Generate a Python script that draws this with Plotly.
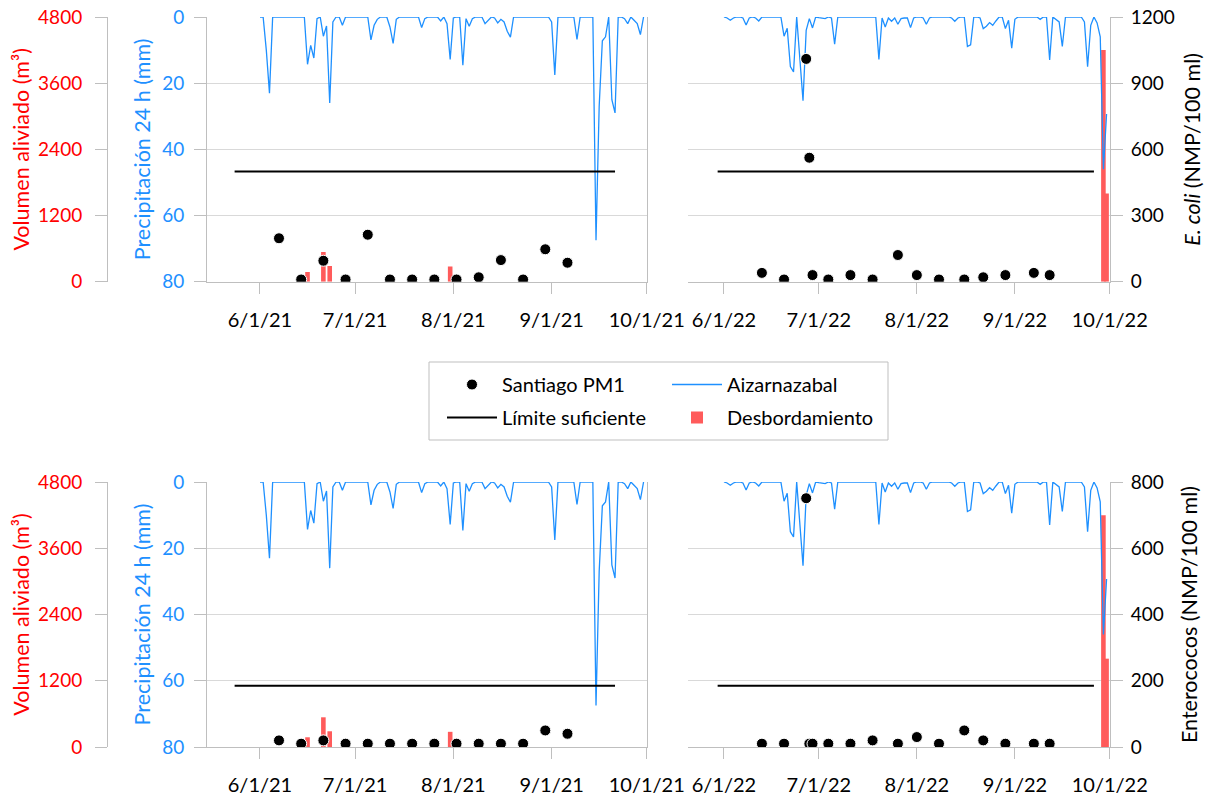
import plotly.graph_objects as go
import pandas as pd

# ---------------- data ----------------
precip_dates_2021 = pd.date_range("2021-06-01", "2021-09-30", freq="D")
precip_2021 = [
    0, 0, 10, 23, 0, 0, 0, 0, 0, 0,
    0, 0, 0, 0, 0, 14.3, 8.6, 12.4, 0.5, 0,
    5.8, 2.7, 26, 1.5, 0, 0, 2.5, 0, 0, 0,
    0, 0, 0, 0, 0, 6.9, 2.5, 0.7, 0, 0,
    0, 3, 8, 0.7, 0, 0, 0, 0, 0, 0,
    0, 3.2, 0.5, 0, 0, 0, 0, 1.2, 0, 2,
    12.8, 0.3, 0, 0, 14.6, 0.5, 2.8, 0.5, 0, 0,
    0, 2, 1, 0, 0.3, 1.8, 0.7, 1.5, 4.3, 6.1,
    0, 0, 0, 0, 0, 0, 0, 0, 0, 0,
    0, 0, 1.5, 17.5, 0, 0, 0, 0, 0, 0,
    6.8, 0, 0, 0, 0, 0, 67.5, 27, 7.2, 6,
    0, 25, 29, 0, 0, 0.5, 2, 0, 1, 2,
    5.3, 0,
]
precip_dates_2022 = pd.date_range("2022-06-01", "2022-09-30", freq="D")
precip_2022 = [
    0, 0.3, 1, 0.3, 0, 0, 0.3, 2.4, 0.3, 0,
    0.3, 1.2, 0, 0, 0, 0, 0, 0, 0, 5.8,
    3.4, 15, 16.6, 0, 13, 25.3, 4, 0.5, 3.3, 0,
    0.2, 0.3, 0.5, 0, 0.3, 8.2, 0, 0, 0, 0,
    0, 0, 0, 0, 0, 0, 0, 0, 0, 12.8,
    0.3, 3, 0.3, 1.3, 0.3, 2.2, 0.5, 0.3, 0.3, 3.2,
    0.3, 0, 0, 0.3, 2.2, 0.3, 0, 0, 0, 0,
    0, 0, 0.3, 1.3, 0.3, 0, 0, 8.9, 8.4, 0,
    0, 0.3, 3.5, 2.8, 1.7, 2.5, 1.2, 0, 0, 3.5,
    1, 9.4, 0.7, 0, 0, 0, 0, 0, 0, 0,
    0.7, 0, 0, 13, 0, 0.7, 1.5, 8.9, 0, 0,
    0, 0, 0, 0, 1.5, 15, 2.5, 0, 1.8, 6,
    46, 29.3,
]

overflow_dates_2021 = ["2021-06-16", "2021-06-21", "2021-06-23", "2021-07-31"]
overflow_2021 = [176, 538, 285, 275]
overflow_dates_2022 = ["2022-09-29", "2022-09-30"]
overflow_2022 = [4200, 1600]

sample_dates_2021 = ["2021-06-07", "2021-06-14", "2021-06-21", "2021-06-28", "2021-07-05",
                     "2021-07-12", "2021-07-19", "2021-07-26", "2021-08-02", "2021-08-09",
                     "2021-08-16", "2021-08-23", "2021-08-30", "2021-09-06"]
ecoli_2021 = [197, 10, 95, 10, 213, 10, 10, 10, 10, 20, 98, 10, 147, 86]
entero_2021 = [20, 10, 20, 10, 10, 10, 10, 10, 10, 10, 10, 10, 50, 40]

sample_dates_2022 = ["2022-06-13", "2022-06-20", "2022-06-27", "2022-06-28", "2022-06-29",
                     "2022-07-04", "2022-07-11", "2022-07-18", "2022-07-26", "2022-08-01",
                     "2022-08-08", "2022-08-16", "2022-08-22", "2022-08-29", "2022-09-07",
                     "2022-09-12"]
ecoli_2022 = [40, 10, 1010, 562, 30, 10, 30, 10, 121, 30, 10, 10, 20, 30, 40, 30]
entero_2022 = [10, 10, 751, 10, 10, 10, 10, 20, 10, 30, 10, 50, 20, 10, 10, 10]

limit_dates_2021 = ["2021-05-24", "2021-09-21"]
limit_dates_2022 = ["2022-05-30", "2022-09-26"]
limit_ecoli = 500
limit_entero = 185

# ---------------- style ----------------
# The page body has an 8 px margin, so the figure is drawn 8 px smaller
# and every reference pixel position is shifted by that offset.
OFF = 8
W, H = 1206, 788
ML, MR, MT, MB = 92, 104, 9, 49
PW, PH = W - ML - MR, H - MT - MB
FONT = "Lato"
FS = 20        # legend / x tick labels
FS_Y = 19      # y tick labels
FS_T = 21.5    # axis titles
RED_TXT = "#FF0000"
BAR_RED = "#FF5B5B"
BLUE = "#1E90FF"
AX_GRAY = "#BFBFBF"
GRID = "#D9D9D9"


def fx(px):
    return (px - OFF - ML) / PW


def fy(py):
    return (H - MB - (py - OFF)) / PH


XL = [fx(207), fx(647)]
XR = [fx(688), fx(1110)]
YT = [fy(281.7), 1.0]
YB = [0.0, fy(482)]
RANGE21 = ["2021-05-15 07:00", "2021-10-01 02:00"]
RANGE22 = ["2022-05-20 15:00", "2022-10-01 02:00"]
BARW = 1.45 * 86400000

fig = go.Figure()


def add_panel(xa, y_vol, y_pre, y_bac, bar_x, bar_y, p_x, p_y, s_x, s_y, l_x, l_y, show):
    fig.add_trace(go.Bar(x=bar_x, y=bar_y, xaxis=xa, yaxis=y_vol, marker=dict(color=BAR_RED, line=dict(width=0)),
                         width=BARW, name="Desbordamiento", legend="legend2", legendgroup="des",
                         legendrank=2, showlegend=show))
    fig.add_trace(go.Scatter(x=p_x, y=p_y, xaxis=xa, yaxis=y_pre, mode="lines",
                             line=dict(color=BLUE, width=1.3), name="Aizarnazabal", legend="legend2",
                             legendgroup="aiz", legendrank=1, showlegend=show))
    fig.add_trace(go.Scatter(x=l_x, y=l_y, xaxis=xa, yaxis=y_bac, mode="lines",
                             line=dict(color="black", width=2), name="Límite suficiente", legend="legend",
                             legendgroup="lim", legendrank=2, showlegend=show))
    fig.add_trace(go.Scatter(x=s_x, y=s_y, xaxis=xa, yaxis=y_bac, mode="markers",
                             marker=dict(color="black", size=11, line=dict(color="white", width=1)),
                             name="Santiago PM1", legend="legend", legendgroup="san", legendrank=1,
                             showlegend=show))


add_panel("x", "y", "y2", "y3", overflow_dates_2021, overflow_2021, precip_dates_2021, precip_2021,
          sample_dates_2021, ecoli_2021, limit_dates_2021, [limit_ecoli] * 2, True)
add_panel("x2", "y4", "y5", "y6", overflow_dates_2022, overflow_2022, precip_dates_2022, precip_2022,
          sample_dates_2022, ecoli_2022, limit_dates_2022, [limit_ecoli] * 2, False)
add_panel("x3", "y7", "y8", "y9", overflow_dates_2021, overflow_2021, precip_dates_2021, precip_2021,
          sample_dates_2021, entero_2021, limit_dates_2021, [limit_entero] * 2, False)
add_panel("x4", "y10", "y11", "y12", overflow_dates_2022, overflow_2022, precip_dates_2022, precip_2022,
          sample_dates_2022, entero_2022, limit_dates_2022, [limit_entero] * 2, False)


def xax(domain, rng, anchor):
    return dict(domain=domain, range=rng, anchor=anchor, type="date", dtick="M1",
                tickformat="%-m/%-d/%y", ticks="outside", ticklen=11, tickcolor=AX_GRAY,
                showline=True, linecolor=AX_GRAY, showgrid=False, zeroline=False, automargin=False,
                tickfont=dict(size=FS, color="black"), ticklabelstandoff=9, ticklabeloverflow="allow")


def vol_axis(domain):
    return dict(domain=domain, anchor="free", position=fx(107), side="left", range=[0, 4800],
                dtick=1200, showgrid=False, zeroline=False, showline=True, linecolor=AX_GRAY,
                ticks="outside", ticklen=12, tickcolor=AX_GRAY, tickfont=dict(size=FS_Y, color=RED_TXT),
                ticklabelstandoff=9, automargin=False, ticklabeloverflow="allow",
                title=dict(text="Volumen aliviado (m³)", font=dict(size=FS_T, color=RED_TXT), standoff=3))


def pre_axis(over, anchor):
    return dict(overlaying=over, anchor=anchor, side="left", range=[80, 0], dtick=20,
                showgrid=True, gridcolor=GRID, gridwidth=1.3, zeroline=False, showline=True,
                linecolor=AX_GRAY, ticks="outside", ticklen=12, tickcolor=AX_GRAY,
                tickfont=dict(size=FS_Y, color=BLUE), ticklabelstandoff=6, automargin=False,
                ticklabeloverflow="allow",
                title=dict(text="Precipitación 24 h (mm)", font=dict(size=FS_T, color=BLUE), standoff=5))


def bac_axis_hidden(over, anchor, top):
    return dict(overlaying=over, anchor=anchor, side="right", range=[0, top], showgrid=False,
                zeroline=False, showline=True, linecolor=AX_GRAY, showticklabels=False, ticks="",
                automargin=False)


def bac_axis(over, anchor, top, dtick, title, standoff):
    return dict(overlaying=over, anchor=anchor, side="right", range=[0, top], dtick=dtick,
                showgrid=True, gridcolor=GRID, gridwidth=1.3, zeroline=False, showline=True,
                linecolor=AX_GRAY, ticks="outside", ticklen=12, tickcolor=AX_GRAY,
                tickfont=dict(size=FS_Y, color="black"), ticklabelstandoff=4, automargin=False,
                ticklabeloverflow="allow",
                title=dict(text=title, font=dict(size=FS_T, color="black"), standoff=standoff))


def hidden_axis(over, anchor, rng, domain=None):
    d = dict(anchor=anchor, range=rng, visible=False, automargin=False)
    if over:
        d["overlaying"] = over
    else:
        d["domain"] = domain
    return d


fig.update_layout(
    template="none",
    width=W, height=H, margin=dict(l=ML, r=MR, t=MT, b=MB, autoexpand=False),
    paper_bgcolor="white", plot_bgcolor="rgba(0,0,0,0)",
    font=dict(family=FONT, size=FS, color="black"),
    xaxis=xax(XL, RANGE21, "y"),
    xaxis2=xax(XR, RANGE22, "y4"),
    xaxis3=xax(XL, RANGE21, "y7"),
    xaxis4=xax(XR, RANGE22, "y10"),
    yaxis=vol_axis(YT),
    yaxis2=pre_axis("y", "x"),
    yaxis3=bac_axis_hidden("y", "x", 1200),
    yaxis4=hidden_axis(None, "x2", [0, 4800], YT),
    yaxis5=hidden_axis("y4", "x2", [80, 0]),
    yaxis6=bac_axis("y4", "x2", 1200, 300, "<i>E. coli</i> (NMP/100 ml)", 11),
    yaxis7=vol_axis(YB),
    yaxis8=pre_axis("y7", "x3"),
    yaxis9=bac_axis_hidden("y7", "x3", 800),
    yaxis10=hidden_axis(None, "x4", [0, 4800], YB),
    yaxis11=hidden_axis("y10", "x4", [80, 0]),
    yaxis12=bac_axis("y10", "x4", 800, 200, "Enterococos (NMP/100 ml)", 19),
    legend=dict(x=fx(442), y=fy(365), xanchor="left", yanchor="top", bgcolor="rgba(0,0,0,0)",
                borderwidth=0, font=dict(size=FS), traceorder="grouped", tracegroupgap=4,
                itemwidth=50),
    legend2=dict(x=fx(667), y=fy(365), xanchor="left", yanchor="top", bgcolor="rgba(0,0,0,0)",
                 borderwidth=0, font=dict(size=FS), traceorder="grouped", tracegroupgap=4,
                 itemwidth=50),
    shapes=[dict(type="rect", xref="paper", yref="paper", x0=fx(429), x1=fx(888), y0=fy(440), y1=fy(362),
                 line=dict(color=AX_GRAY, width=1), fillcolor="white", layer="below")],
    showlegend=True,
)

fig.write_html("out.html")
